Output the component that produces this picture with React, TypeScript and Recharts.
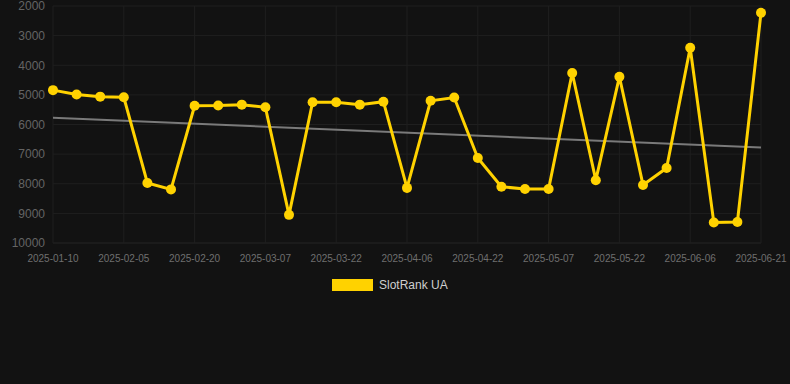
import React from 'react'
import { LineChart, Line, XAxis, YAxis, CartesianGrid } from 'recharts'

const dates = [
  '2025-01-10', '2025-01-19', '2025-01-27', '2025-02-05', '2025-02-10', '2025-02-15',
  '2025-02-20', '2025-02-25', '2025-03-02', '2025-03-07', '2025-03-12', '2025-03-17',
  '2025-03-22', '2025-03-27', '2025-04-01', '2025-04-06', '2025-04-11', '2025-04-17',
  '2025-04-22', '2025-04-27', '2025-05-02', '2025-05-07', '2025-05-12', '2025-05-17',
  '2025-05-22', '2025-05-27', '2025-06-01', '2025-06-06', '2025-06-11', '2025-06-16',
  '2025-06-21',
]

const rank = [
  4840, 4990, 5060, 5080, 7975, 8190, 5370, 5360, 5330, 5420, 9050,
  5250, 5250, 5330, 5230, 8140, 5200, 5090, 7130, 8100, 8180, 8180,
  4260, 7880, 4390, 8040, 7470, 3410, 9310, 9290, 2230,
]

// trend line end points
const trendStart = 5770
const trendEnd = 6780

const yTicks = [2000, 3000, 4000, 5000, 6000, 7000, 8000, 9000, 10000]

const data = dates.map((d, i) => ({
  date: d,
  rank: rank[i],
  trend: i === 0 ? trendStart : i === dates.length - 1 ? trendEnd : null,
}))

const FONT = '"Liberation Sans", Arial, sans-serif'

export default function App() {
  return (
    <div
      style={{
        position: 'absolute',
        top: 0,
        left: 0,
        width: 790,
        height: 384,
        background: '#121212',
        fontFamily: FONT,
      }}
    >
      <LineChart
        width={790}
        height={384}
        data={data}
        margin={{ top: 6, right: 29, left: 8, bottom: 111 }}
      >
        <CartesianGrid stroke="#1f1f1f" strokeWidth={1} />
        <XAxis
          dataKey="date"
          interval={2}
          height={30}
          tick={{ fill: '#6f6f6f', fontSize: 10, fontFamily: FONT }}
          tickLine={false}
          axisLine={{ stroke: '#1f1f1f' }}
          tickMargin={6}
        />
        <YAxis
          reversed
          domain={[2000, 10000]}
          ticks={yTicks}
          interval={0}
          width={45}
          tick={{ fill: '#646464', fontSize: 12, fontFamily: FONT }}
          tickLine={false}
          axisLine={false}
          tickMargin={2}
        />
        <Line
          dataKey="trend"
          stroke="#7a7a7a"
          strokeWidth={2}
          dot={false}
          connectNulls
          isAnimationActive={false}
        />
        <Line
          type="linear"
          dataKey="rank"
          stroke="#FFD200"
          strokeWidth={3}
          dot={{ r: 5, fill: '#FFD200', stroke: 'none' }}
          isAnimationActive={false}
        />
      </LineChart>
      <div
        style={{
          position: 'absolute',
          top: 278,
          left: 332,
          display: 'flex',
          alignItems: 'center',
          gap: 6,
          fontSize: 12,
          color: '#cfcfcf',
        }}
      >
        <span style={{ display: 'inline-block', width: 41, height: 12, background: '#FFD200' }} />
        <span>SlotRank UA</span>
      </div>
    </div>
  )
}
